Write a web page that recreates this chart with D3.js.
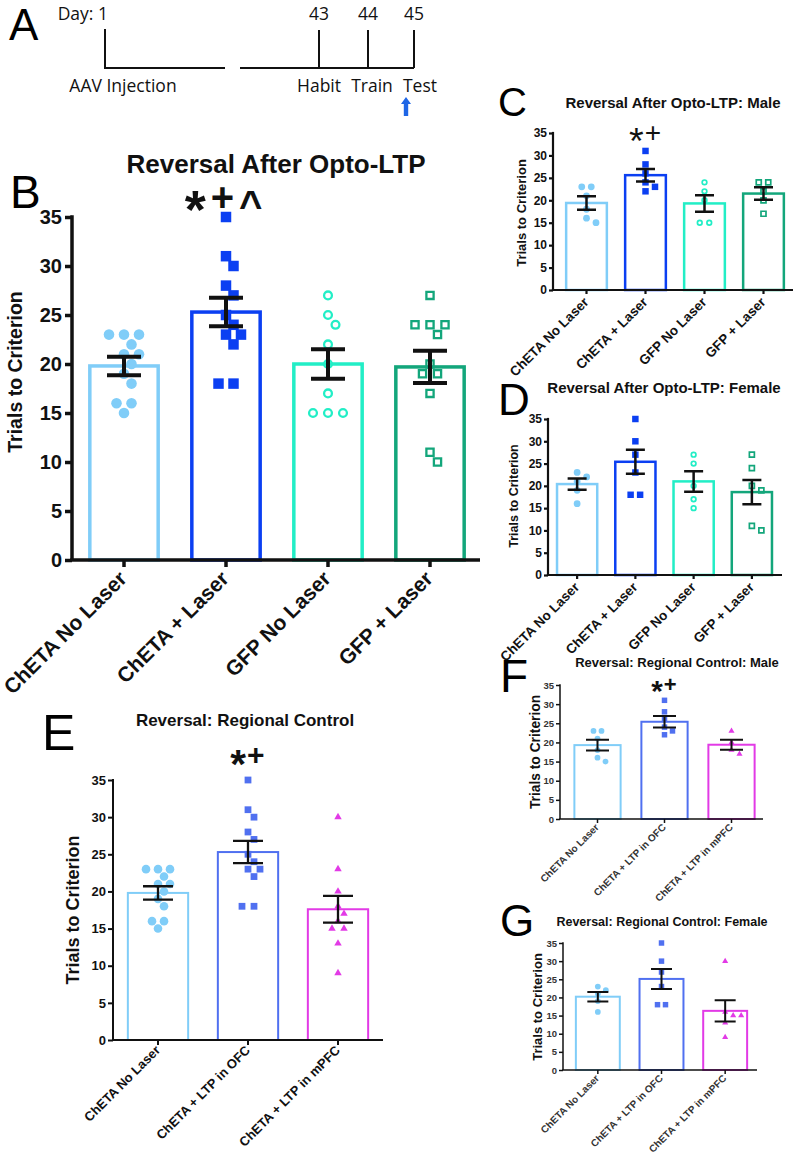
<!DOCTYPE html>
<html><head><meta charset="utf-8">
<script src="https://cdn.jsdelivr.net/npm/d3@7"></script>
<style>body{margin:0;background:#fff}</style>
</head><body><svg id="c" width="796" height="1156"></svg>
<script>
// ---------------- DATA ----------------
const timelineDays = [1, 43, 44, 45];
const timelineEvents = ["AAV Injection", "Habit", "Train", "Test"];

const optoCategories = ["ChETA No Laser", "ChETA + Laser", "GFP No Laser", "GFP + Laser"];
const regionalCategories = ["ChETA No Laser", "ChETA + LTP in OFC", "ChETA + LTP in mPFC"];
const yTicks = [0, 5, 10, 15, 20, 25, 30, 35];

// B: Reversal After Opto-LTP
const bMeans = [19.8, 25.3, 20.0, 19.7];
const bSems = [0.95, 1.45, 1.5, 1.65];
const bPoints = [
  [23, 23, 23, 22, 21, 21, 20, 19, 18, 16, 16, 15],
  [35, 31, 30, 28, 27, 25, 24, 23, 23, 22, 18, 18],
  [27, 25, 24, 22, 20, 17, 15, 15, 15],
  [27, 24, 24, 24, 23, 20, 19, 19, 17, 11, 10]
];
// C: Male
const cMeans = [19.4, 25.6, 19.3, 21.5];
const cSems = [1.5, 1.4, 1.85, 1.4];
const cPoints = [
  [23, 23, 21, 18, 16, 15],
  [31, 28, 26, 24, 23, 22],
  [24, 22, 20, 15, 15],
  [24, 24, 22, 20, 17]
];
// D: Female
const dMeans = [20.4, 25.4, 21.0, 18.6];
const dSems = [1.25, 2.7, 2.3, 2.7];
const dPoints = [
  [23, 22, 21, 19, 16],
  [35, 30, 27, 23, 18, 18],
  [27, 25, 20, 17, 15],
  [27, 24, 20, 19, 11, 10]
];
// E: Regional Control
const eMeans = [19.8, 25.3, 17.6];
const eSems = [0.9, 1.5, 1.8];
const ePoints = [
  [23, 23, 23, 22, 21, 21, 20, 19, 18, 16, 16, 15],
  [35, 31, 30, 28, 27, 25, 24, 23, 23, 22, 18, 18],
  [30, 23, 20, 18, 17, 16, 15, 15, 13, 9]
];
// F: Regional Control Male
const fMeans = [19.3, 25.4, 19.4];
const fSems = [1.4, 1.5, 1.3];
const fPoints = [
  [23, 23, 21, 18, 16, 15],
  [31, 28, 26, 24, 23, 22],
  [23, 20, 18, 17]
];
// G: Regional Control Female
const gMeans = [20.2, 25.1, 16.3];
const gSems = [1.3, 2.75, 2.95];
const gPoints = [
  [23, 22, 21, 19, 16],
  [35, 30, 27, 23, 18, 18],
  [30, 16, 15, 15, 13, 9]
];

// ---------------- STYLE ----------------
const FONT = '"Liberation Sans", Arial, Helvetica, sans-serif';
const optoColors = ["#80cdf8", "#0b3ff2", "#22eec6", "#13a67b"];
const optoShapes = ["circleFilled", "squareFilled", "circleOpen", "squareOpen"];
const regionalColors = ["#80cdf8", "#5070f0", "#e23ae6"];
const regionalShapes = ["circleFilled", "squareFilled", "triangleFilled"];

const svg = d3.select("#c");

// ---------------- PANEL A: timeline ----------------
(function () {
  const g = svg.append("g");
  const tx = d3.scaleLinear().domain([1, 43, 44, 45]).range([105, 319, 368, 414]);
  const baseY = 68, topY = 30;
  const breakL = 225, breakR = 240;
  g.append("text").text("A").attr("x", 9).attr("y", 40).attr("font-family", FONT).attr("font-size", 44);
  const ln = g.append("g").attr("stroke", "#111").attr("stroke-width", 2).attr("fill", "none");
  ln.append("path").attr("d", `M${tx(1)},${topY - 1}V${baseY}H${breakL}`);
  ln.append("path").attr("d", `M${breakR},${baseY}H${tx(45)}`);
  ln.selectAll("line").data(timelineDays.slice(1)).join("line")
    .attr("x1", d => tx(d)).attr("x2", d => tx(d)).attr("y1", topY).attr("y2", baseY);
  const tf = '"Open Sans", "Noto Sans", sans-serif';
  g.selectAll("text.day").data(timelineDays).join("text").attr("class", "day")
    .attr("x", (d, i) => i === 0 ? tx(d) + 3 : tx(d))
    .attr("y", 20)
    .attr("text-anchor", (d, i) => i === 0 ? "end" : "middle")
    .attr("font-family", tf).attr("font-size", 17.5).attr("fill", "#111")
    .text((d, i) => i === 0 ? "Day: " + d : d);
  const evOff = [18, 0, 4, 6];
  g.selectAll("text.ev").data(timelineEvents).join("text").attr("class", "ev")
    .attr("x", (d, i) => tx(timelineDays[i]) + evOff[i]).attr("y", 92)
    .attr("text-anchor", "middle").attr("font-family", tf).attr("font-size", 17.5).attr("fill", "#111")
    .text(d => d);
  // arrow under "Test"
  const ax = tx(45) - 8;
  g.append("path").attr("fill", "#1f66e6")
    .attr("d", `M${ax},97 L${ax + 5},104 L${ax + 2.2},104 L${ax + 2.2},116 L${ax - 2.2},116 L${ax - 2.2},104 L${ax - 5},104 Z`);
})();

// ---------------- helpers ----------------
function symbolPath(shape, size) {
  const type = shape.startsWith("circle") ? d3.symbolCircle
    : shape.startsWith("square") ? d3.symbolSquare : d3.symbolTriangle;
  return d3.symbol().type(type).size(size)();
}

// scatter-dot layout: equal values are spread symmetrically, nearby values are nudged sideways
function dodge(values, y, step, minDist) {
  const idx = values.map((v, i) => i).sort((a, b) => values[b] - values[a]);
  const groups = d3.groups(idx, i => values[i]);
  const placed = [];
  const off = new Array(values.length).fill(0);
  for (const [v, members] of groups) {
    const n = members.length, py = y(v);
    for (let k = 0; k < 60; k++) {
      const c = k === 0 ? 0 : (k % 2 ? 1 : -1) * Math.ceil(k / 2) * step / 2;
      const xs = members.map((m, j) => c + (j - (n - 1) / 2) * step);
      const ok = xs.every(xx => placed.every(p => Math.hypot(p.x - xx, p.y - py) >= minDist));
      if (ok) {
        xs.forEach((xx, j) => { off[members[j]] = xx; placed.push({ x: xx, y: py }); });
        break;
      }
    }
  }
  return off;
}

function drawPanel(o) {
  const g = svg.append("g");
  const x = d3.scaleBand().domain(o.categories).range(o.xRange).padding(0);
  const y = d3.scaleLinear().domain([0, 35]).range(o.yRange);
  const cx = d => x(d) + x.bandwidth() / 2;
  const bw = x.bandwidth() * o.barFrac;

  // bars
  g.append("g").selectAll("rect").data(o.categories).join("rect")
    .attr("x", d => cx(d) - bw / 2).attr("width", bw)
    .attr("y", (d, i) => y(o.means[i])).attr("height", (d, i) => y(0) - y(o.means[i]))
    .attr("fill", "none").attr("stroke", (d, i) => o.colors[i]).attr("stroke-width", o.barStroke);

  // points
  o.categories.forEach((cat, i) => {
    const vals = o.points[i];
    const offs = dodge(vals, y, o.step, o.minDist);
    const shape = o.shapes[i];
    const open = shape.endsWith("Open");
    g.append("g").selectAll("path").data(vals).join("path")
      .attr("d", symbolPath(shape, o.sizes[shape]))
      .attr("transform", (v, j) => `translate(${cx(cat) + offs[j]},${y(v)})`)
      .attr("fill", open ? "none" : o.colors[i])
      .attr("stroke", open ? o.colors[i] : "none")
      .attr("stroke-width", open ? o.openStroke : 0);
  });

  // error bars (SEM)
  const eb = g.append("g").attr("stroke", "#111").attr("stroke-width", o.errStroke).attr("fill", "none");
  eb.selectAll("path").data(o.categories).join("path")
    .attr("d", (d, i) => {
      const c = cx(d), hi = y(o.means[i] + o.sems[i]), lo = y(o.means[i] - o.sems[i]), h = o.cap / 2;
      return `M${c - h},${hi}H${c + h}M${c},${hi}V${lo}M${c - h},${lo}H${c + h}`;
    });

  // y axis
  const ya = g.append("g").attr("transform", `translate(${o.axisX},0)`)
    .call(d3.axisLeft(y).tickValues(yTicks).tickSize(o.tickLen).tickSizeOuter(0).tickPadding(o.tickPad));
  ya.attr("font-family", FONT).attr("font-size", o.tickFont).attr("font-weight", "bold");
  ya.select(".domain").attr("stroke-width", o.axisStroke).attr("stroke", "#111")
    .attr("d", `M0,${y(0)}V${y(35) - o.axisStroke / 2}`);
  ya.selectAll(".tick line").attr("stroke-width", o.axisStroke).attr("stroke", "#111");
  ya.selectAll(".tick text").attr("fill", o.tickColor || "#111");

  // x axis
  const xa = g.append("g").attr("transform", `translate(0,${y(0)})`)
    .call(d3.axisBottom(x).tickSize(o.tickLen).tickSizeOuter(0));
  xa.attr("font-family", FONT).attr("font-size", o.xlFont).attr("font-weight", "bold");
  xa.select(".domain").attr("stroke-width", o.axisStroke).attr("stroke", "#111")
    .attr("d", `M${o.axisX - o.axisStroke / 2},0H${o.xEnd}`);
  xa.selectAll(".tick line").attr("stroke-width", o.axisStroke).attr("stroke", "#111");
  xa.selectAll(".tick text").attr("x", null).attr("y", null).attr("dy", null)
    .attr("text-anchor", "end").attr("fill", o.xlColor || "#111")
    .attr("transform", `translate(${o.xlDx},${o.xlDy}) rotate(-45)`);

  // y label
  g.append("text").text("Trials to Criterion")
    .attr("transform", `translate(${o.ylX},${o.ylY}) rotate(-90)`)
    .attr("text-anchor", "middle").attr("dy", "0.35em")
    .attr("font-family", FONT).attr("font-weight", "bold").attr("font-size", o.ylFont).attr("fill", "#111");

  // title
  g.append("text").text(o.title).attr("x", o.titleX).attr("y", o.titleY)
    .attr("text-anchor", "middle").attr("font-family", FONT).attr("font-weight", "bold")
    .attr("font-size", o.titleFont).attr("fill", "#111");

  // panel letter
  g.append("text").text(o.letter).attr("x", o.letterX).attr("y", o.letterY)
    .attr("font-family", FONT).attr("font-size", o.letterFont).attr("fill", "#000");

  // significance marks: "*" enlarged and lowered, "^" lowered, so all sit on one centre line
  if (o.sig) {
    const F = o.sigFont;
    const t = g.append("text").attr("x", cx(o.categories[o.sigIndex])).attr("y", o.sigY)
      .attr("text-anchor", "middle").attr("font-family", FONT)
      .attr("font-weight", o.sigWeight).attr("font-size", F).attr("fill", "#111")
      .attr("letter-spacing", o.sigSpacing || 0);
    let cur = 0;
    o.sig.split("").forEach(ch => {
      const shift = ch === "*" ? 0.42 * F : ch === "^" ? 0.2 * F : 0;
      t.append("tspan").text(ch).attr("dy", shift - cur)
        .attr("font-size", ch === "*" ? F * 1.35 : F);
      cur = shift;
    });
  }
}

// ---------------- PANELS ----------------
drawPanel({
  categories: optoCategories, means: bMeans, sems: bSems, points: bPoints,
  colors: optoColors, shapes: optoShapes,
  xRange: [73, 481], axisX: 72, xEnd: 480, yRange: [560, 217],
  barFrac: 0.67, barStroke: 3.5,
  step: 15, minDist: 12,
  sizes: { circleFilled: 88, squareFilled: 110, circleOpen: 48, squareOpen: 52 }, openStroke: 2.3,
  errStroke: 4, cap: 34, axisStroke: 3.5, tickLen: 7, tickPad: 3, tickFont: 20,
  xlFont: 21, xlDx: 4, xlDy: 20,
  ylFont: 19.5, ylX: 15, ylY: 372,
  title: "Reversal After Opto-LTP", titleX: 276, titleY: 173, titleFont: 26,
  letter: "B", letterX: 10, letterY: 208, letterFont: 46,
  sig: "*+^", sigIndex: 1, sigY: 211, sigFont: 40, sigWeight: "bold", sigSpacing: 5
});

drawPanel({
  categories: optoCategories, means: cMeans, sems: cSems, points: cPoints,
  colors: optoColors, shapes: optoShapes,
  xRange: [557, 793], axisX: 553, xEnd: 793, yRange: [290, 133],
  barFrac: 0.69, barStroke: 2.5,
  step: 9.5, minDist: 8,
  sizes: { circleFilled: 36, squareFilled: 42, circleOpen: 17, squareOpen: 25 }, openStroke: 1.7,
  errStroke: 2.5, cap: 19, axisStroke: 2.2, tickLen: 4, tickPad: 2, tickFont: 12,
  xlFont: 13.5, xlDx: 3, xlDy: 13,
  ylFont: 13, ylX: 521, ylY: 213,
  title: "Reversal After Opto-LTP: Male", titleX: 673, titleY: 108, titleFont: 15,
  letter: "C", letterX: 498, letterY: 116, letterFont: 40,
  sig: "*+", sigIndex: 1, sigY: 142, sigFont: 28, sigWeight: "normal", sigSpacing: 1
});

drawPanel({
  categories: optoCategories, means: dMeans, sems: dSems, points: dPoints,
  colors: optoColors, shapes: optoShapes,
  xRange: [548, 781], axisX: 548, xEnd: 782, yRange: [575, 419],
  barFrac: 0.69, barStroke: 2.5,
  step: 9.5, minDist: 8,
  sizes: { circleFilled: 36, squareFilled: 42, circleOpen: 17, squareOpen: 25 }, openStroke: 1.7,
  errStroke: 2.5, cap: 19, axisStroke: 2.2, tickLen: 4, tickPad: 2, tickFont: 12,
  xlFont: 13.5, xlDx: 3, xlDy: 13,
  ylFont: 12.5, ylX: 514, ylY: 496,
  title: "Reversal After Opto-LTP: Female", titleX: 664, titleY: 393, titleFont: 15,
  letter: "D", letterX: 498, letterY: 415, letterFont: 44
});

drawPanel({
  categories: regionalCategories, means: eMeans, sems: eSems, points: ePoints,
  colors: regionalColors, shapes: regionalShapes,
  xRange: [113, 383], axisX: 113, xEnd: 383, yRange: [1040, 780],
  barFrac: 0.67, barStroke: 2,
  step: 12, minDist: 9.5,
  sizes: { circleFilled: 58, squareFilled: 46, triangleFilled: 24 }, openStroke: 0,
  errStroke: 2.3, cap: 30, axisStroke: 2, tickLen: 5, tickPad: 2, tickFont: 13,
  xlFont: 13, xlDx: 3, xlDy: 11,
  ylFont: 18, ylX: 73, ylY: 910,
  title: "Reversal: Regional Control", titleX: 245, titleY: 726, titleFont: 17,
  letter: "E", letterX: 42, letterY: 750, letterFont: 50,
  sig: "*+", sigIndex: 1, sigY: 765, sigFont: 30, sigWeight: "bold", sigSpacing: 1
});

drawPanel({
  categories: regionalCategories, means: fMeans, sems: fSems, points: fPoints,
  colors: regionalColors, shapes: regionalShapes,
  xRange: [564, 765], axisX: 560, xEnd: 763, yRange: [819, 685],
  barFrac: 0.69, barStroke: 2,
  step: 8, minDist: 6.5,
  sizes: { circleFilled: 26, squareFilled: 30, triangleFilled: 16 }, openStroke: 0,
  errStroke: 2, cap: 23, axisStroke: 1.5, tickLen: 4, tickPad: 2, tickFont: 9.5, tickColor: "#333",
  xlFont: 10, xlDx: 2, xlDy: 9, xlColor: "#333",
  ylFont: 13.8, ylX: 535, ylY: 752,
  title: "Reversal: Regional Control: Male", titleX: 677, titleY: 667, titleFont: 13,
  letter: "F", letterX: 500, letterY: 692, letterFont: 46,
  sig: "*+", sigIndex: 1, sigY: 692, sigFont: 22, sigWeight: "bold", sigSpacing: 1
});

drawPanel({
  categories: regionalCategories, means: gMeans, sems: gSems, points: gPoints,
  colors: regionalColors, shapes: regionalShapes,
  xRange: [566, 757], axisX: 563, xEnd: 757, yRange: [1070, 943],
  barFrac: 0.69, barStroke: 2,
  step: 8, minDist: 6.5,
  sizes: { circleFilled: 26, squareFilled: 30, triangleFilled: 16 }, openStroke: 0,
  errStroke: 2, cap: 21, axisStroke: 1.5, tickLen: 4, tickPad: 2, tickFont: 9.5, tickColor: "#333",
  xlFont: 10, xlDx: 2, xlDy: 9, xlColor: "#333",
  ylFont: 13, ylX: 537, ylY: 1007,
  title: "Reversal: Regional Control: Female", titleX: 662, titleY: 926, titleFont: 12.5,
  letter: "G", letterX: 500, letterY: 936, letterFont: 44
});
</script>
</body></html>
